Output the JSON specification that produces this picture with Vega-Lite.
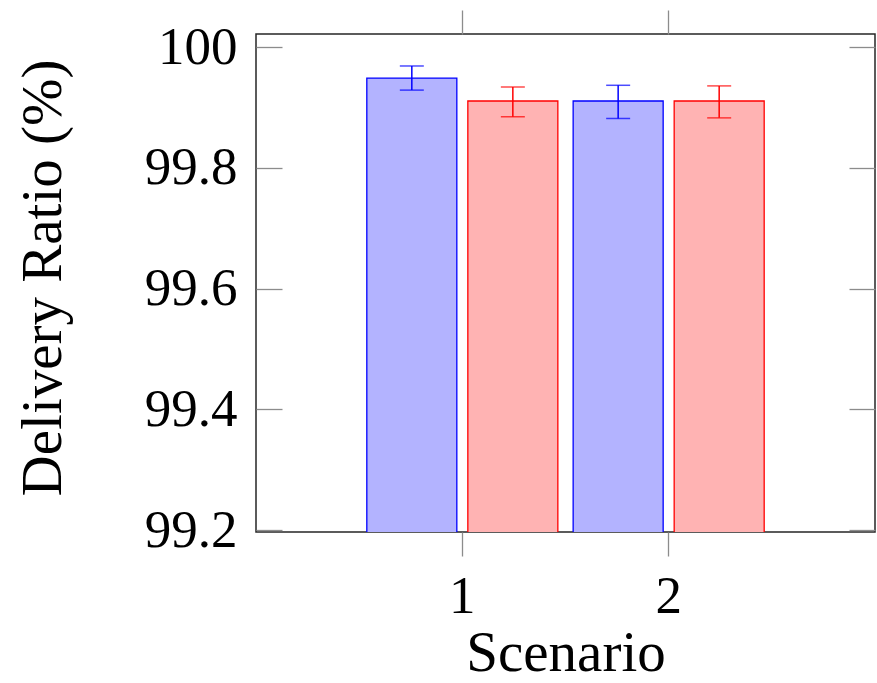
{
  "$schema": "https://vega.github.io/schema/vega-lite/v6.json",
  "width": 619,
  "height": 498,
  "autosize": {"type": "none"},
  "padding": {"left": 256, "top": 34, "right": 2, "bottom": 151},
  "background": "white",
  "view": {"stroke": "#262626", "strokeWidth": 1.5},
  "config": {
    "axis": {
      "grid": false,
      "domain": false,
      "tickColor": "#8c8c8c",
      "tickWidth": 1.3,
      "labelFont": "Liberation Serif",
      "labelFontSize": 53,
      "labelColor": "black",
      "titleFont": "Liberation Serif",
      "titleFontSize": 57,
      "titleFontWeight": "normal",
      "titleColor": "black"
    }
  },
  "data": {
    "values": [
      {"scenario": "1", "series": "A", "ratio": 99.949, "lo": 99.929, "hi": 99.969},
      {"scenario": "1", "series": "B", "ratio": 99.911, "lo": 99.885, "hi": 99.934},
      {"scenario": "2", "series": "A", "ratio": 99.911, "lo": 99.882, "hi": 99.937},
      {"scenario": "2", "series": "B", "ratio": 99.911, "lo": 99.883, "hi": 99.936}
    ]
  },
  "resolve": {"axis": {"x": "independent", "y": "independent"}},
  "layer": [
    {
      "mark": {"type": "bar", "strokeWidth": 1.3, "clip": true},
      "encoding": {
        "x": {
          "field": "scenario", "type": "nominal",
          "scale": {"domain": ["1", "2"], "paddingInner": 0, "paddingOuter": 0.5},
          "axis": {"orient": "bottom", "labelAngle": 0, "tickSize": 24, "labelPadding": 56, "labelBaseline": "alphabetic", "title": "Scenario", "titleBaseline": "alphabetic", "titleY": 138}
        },
        "xOffset": {
          "field": "series", "type": "nominal",
          "scale": {"domain": ["A", "B"], "paddingInner": 0.109, "paddingOuter": 0.0757}
        },
        "y": {
          "field": "ratio", "type": "quantitative",
          "scale": {"domain": [99.1967, 100.022], "zero": false, "nice": false},
          "axis": {"orient": "left", "values": [99.2, 99.4, 99.6, 99.8, 100], "format": ".1~f", "tickSize": -26, "labelPadding": 45, "title": "Delivery Ratio (%)", "titleAngle": -90, "titleBaseline": "alphabetic", "titleAlign": "center", "titleX": -196, "titleY": 243.5}
        },
        "fill": {
          "field": "series", "type": "nominal",
          "scale": {"domain": ["A", "B"], "range": ["#b3b3ff", "#ffb3b3"]},
          "legend": null
        },
        "stroke": {
          "field": "series", "type": "nominal",
          "scale": {"domain": ["A", "B"], "range": ["#0000ff", "#ff0000"]},
          "legend": null
        }
      }
    },
    {
      "mark": {"type": "rule", "strokeWidth": 1.5},
      "encoding": {
        "x": {"field": "scenario", "type": "nominal", "axis": {"orient": "top", "labels": false, "tickSize": 24, "title": null}},
        "xOffset": {"field": "series", "type": "nominal"},
        "y": {"field": "lo", "type": "quantitative", "axis": {"orient": "right", "values": [99.2, 99.4, 99.6, 99.8, 100], "labels": false, "tickSize": -26, "title": null}},
        "y2": {"field": "hi"},
        "color": {
          "field": "series", "type": "nominal",
          "scale": {"domain": ["A", "B"], "range": ["#0000ff", "#ff0000"]},
          "legend": null
        }
      }
    },
    {
      "mark": {"type": "tick", "size": 24, "thickness": 1.5},
      "encoding": {
        "x": {"field": "scenario", "type": "nominal", "axis": null},
        "xOffset": {"field": "series", "type": "nominal"},
        "y": {"field": "lo", "type": "quantitative", "axis": null},
        "color": {"field": "series", "type": "nominal", "legend": null}
      }
    },
    {
      "mark": {"type": "tick", "size": 24, "thickness": 1.5},
      "encoding": {
        "x": {"field": "scenario", "type": "nominal", "axis": null},
        "xOffset": {"field": "series", "type": "nominal"},
        "y": {"field": "hi", "type": "quantitative", "axis": null},
        "color": {"field": "series", "type": "nominal", "legend": null}
      }
    }
  ]
}
